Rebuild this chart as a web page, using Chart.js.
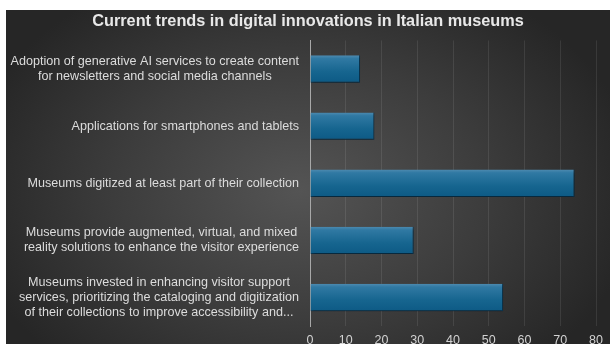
<!DOCTYPE html>
<html>
<head>
<meta charset="utf-8">
<script src="https://cdn.jsdelivr.net/npm/chart.js@4.4.1/dist/chart.umd.min.js"></script>
<style>
  html, body { margin: 0; padding: 0; background: #fff; overflow: hidden; width: 610px; height: 344px; }
  #wrap {
    position: absolute; left: 6px; top: 10px; width: 604px; height: 345px;
    background: radial-gradient(ellipse 340px 240px at 294px 180px, #545454 0%, #3c3c3c 55%, #262626 100%);
  }
  canvas { display: block; }
</style>
</head>
<body>
<div id="wrap"><canvas id="trends" width="604" height="345"></canvas></div>
<script>
var categories = [
    ["Adoption of generative AI services to create content", "for newsletters and social media channels"],
    ["Applications for smartphones and tablets"],
    ["Museums digitized at least part of their collection"],
    ["Museums provide augmented, virtual, and mixed", "reality solutions to enhance the visitor experience"],
    ["Museums invested in enhancing visitor support", "services, prioritizing the cataloging and digitization", "of their collections to improve accessibility and..."]
];
var shares = [14, 18, 74, 29, 54];
var xMin = 0, xMax = 80, xStep = 10;

var FONT = 'Arial, "Liberation Sans", sans-serif';
var BAR_PCT = 0.48;
var SIDE_PAD = 13;

// category labels: each block sits against the axis, lines centred inside the block
var centeredLabels = {
    id: 'centeredLabels',
    afterDraw: function(chart) {
        var ctx = chart.ctx, y = chart.scales.y;
        ctx.save();
        ctx.font = '12.6px ' + FONT;
        ctx.fillStyle = '#dcdcdc';
        ctx.textAlign = 'center';
        ctx.textBaseline = 'middle';
        var lh = 14.8;
        var right = y.right - 11;
        chart.data.labels.forEach(function(lines, i) {
            var w = Math.max.apply(null, lines.map(function(s) { return ctx.measureText(s).width; }));
            var cx = right - w / 2;
            var cy = y.getPixelForValue(i);
            lines.forEach(function(s, j) {
                ctx.fillText(s, cx, cy + (j - (lines.length - 1) / 2) * lh);
            });
        });
        ctx.restore();
    }
};

// soft drop shadow under the bars
var barShadow = {
    id: 'barShadow',
    beforeDatasetsDraw: function(chart) {
        var ctx = chart.ctx;
        ctx.save();
        ctx.shadowColor = 'rgba(0,0,0,0.45)';
        ctx.shadowOffsetY = 2;
        ctx.shadowOffsetX = 1;
        ctx.shadowBlur = 3;
    },
    afterDatasetsDraw: function(chart) {
        chart.ctx.restore();
    }
};

function barFill(c) {
    var chart = c.chart;
    if (!chart.chartArea) return '#17648f';
    var y = chart.scales.y;
    var yc = y.getPixelForValue(c.dataIndex);
    var half = Math.abs(y.getPixelForValue(1) - y.getPixelForValue(0)) * BAR_PCT / 2;
    var g = chart.ctx.createLinearGradient(0, yc - half, 0, yc + half);
    g.addColorStop(0, '#4e8bb0');
    g.addColorStop(0.12, '#3079a3');
    g.addColorStop(0.6, '#16658f');
    g.addColorStop(1, '#0d5a85');
    return g;
}

var ctx = document.getElementById("trends");
var chart = new Chart(ctx, {
    type: 'bar',
    data: {
        labels: categories,
        datasets: [{
            data: shares,
            backgroundColor: barFill,
            borderColor: '#0a3c5b',
            borderWidth: { top: 0, left: 0, right: 1, bottom: 1 },
            borderSkipped: false,
            categoryPercentage: 1,
            barPercentage: BAR_PCT
        }]
    },
    options: {
        indexAxis: 'y',
        responsive: false,
        animation: false,
        devicePixelRatio: 1,
        layout: { padding: { left: SIDE_PAD, right: SIDE_PAD, top: 0, bottom: 0 } },
        plugins: {
            legend: { display: false },
            tooltip: { enabled: false },
            title: {
                display: true,
                text: 'Current trends in digital innovations in Italian museums',
                color: '#e8e8e8',
                font: { family: FONT, size: 16.3, weight: 'bold' },
                padding: { top: 2, bottom: 8.9 }
            }
        },
        scales: {
            x: {
                min: xMin,
                max: xMax,
                ticks: {
                    stepSize: xStep,
                    color: '#d2d2d2',
                    font: { family: FONT, size: 12.5 },
                    padding: 7
                },
                grid: { color: 'rgba(255,255,255,0.09)', drawTicks: false },
                border: { display: false }
            },
            y: {
                afterFit: function(scale) { scale.width = 304 - SIDE_PAD; },
                ticks: { display: false },
                grid: { display: false },
                border: { color: '#a8a8a8', width: 1 }
            }
        }
    },
    plugins: [barShadow, centeredLabels]
});
</script>
</body>
</html>
